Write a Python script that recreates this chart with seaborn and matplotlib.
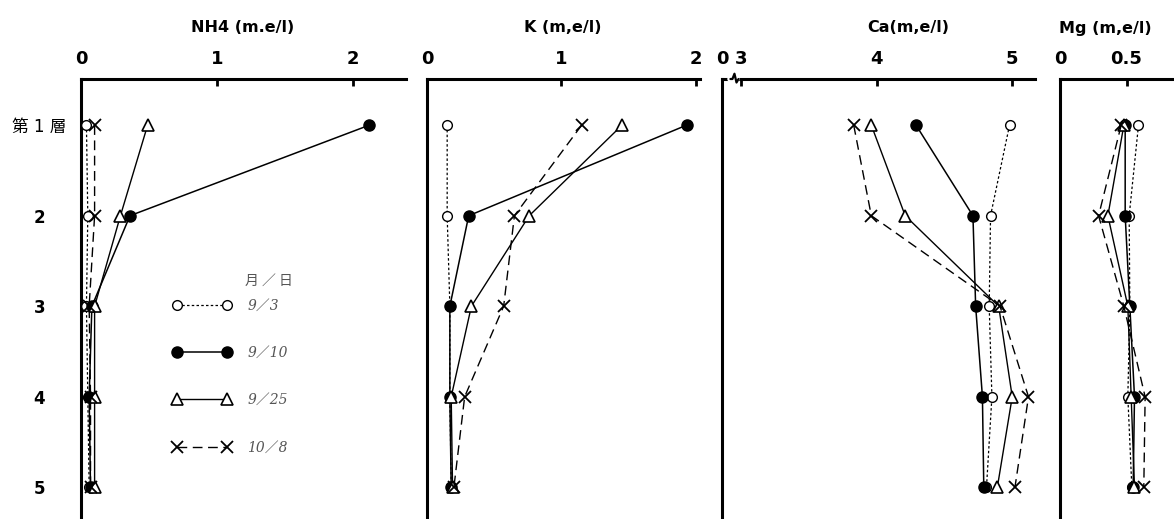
import matplotlib
matplotlib.use("Agg")
import matplotlib.pyplot as plt
from matplotlib.lines import Line2D
import seaborn as sns
import pandas as pd

# ---------------- data ----------------
layers = [1, 2, 3, 4, 5]
layer_labels = ["第 1 層", "2", "3", "4", "5"]
dates = ["9/3", "9/10", "9/25", "10/8"]
legend_labels = ["9／3", "9／10", "9／25", "10／8"]

nh4_0903 = [0.04, 0.05, 0.04, 0.05, 0.06]
nh4_0910 = [2.12, 0.36, 0.08, 0.06, 0.07]
nh4_0925 = [0.49, 0.29, 0.10, 0.10, 0.10]
nh4_1008 = [0.10, 0.10, 0.06, 0.07, 0.07]

k_0903 = [0.15, 0.15, 0.17, 0.17, 0.18]
k_0910 = [1.93, 0.31, 0.17, 0.17, 0.18]
k_0925 = [1.45, 0.76, 0.33, 0.18, 0.19]
k_1008 = [1.15, 0.65, 0.57, 0.28, 0.20]

ca_0903 = [4.98, 4.84, 4.83, 4.85, 4.81]
ca_0910 = [4.29, 4.71, 4.73, 4.78, 4.79]
ca_0925 = [3.96, 4.21, 4.90, 5.00, 4.89]
ca_1008 = [3.83, 3.96, 4.91, 5.12, 5.02]

mg_0903 = [0.59, 0.52, 0.525, 0.51, 0.54]
mg_0910 = [0.49, 0.49, 0.525, 0.56, 0.55]
mg_0925 = [0.48, 0.36, 0.51, 0.535, 0.56]
mg_1008 = [0.46, 0.29, 0.48, 0.64, 0.63]

panels = [
    ("NH4 (m.e/l)", [nh4_0903, nh4_0910, nh4_0925, nh4_1008]),
    ("K (m,e/l)", [k_0903, k_0910, k_0925, k_1008]),
    ("Ca(m,e/l)", [ca_0903, ca_0910, ca_0925, ca_1008]),
    ("Mg (m,e/l)", [mg_0903, mg_0910, mg_0925, mg_1008]),
]

# ---------------- style ----------------
sns.set_theme(style="white")
plt.rcParams["font.family"] = ["DejaVu Sans", "Noto Sans CJK JP"]
plt.rcParams["text.color"] = "black"
plt.rcParams["xtick.color"] = "black"
plt.rcParams["ytick.color"] = "black"

styles = {
    "9/3": dict(marker="o", mfc="white", mec="black", ms=7, mew=1.0,
                linestyle=(0, (2.0, 1.8)), lw=0.9),
    "9/10": dict(marker="o", mfc="black", mec="black", ms=8, mew=1.0,
                 linestyle="-", lw=1.1),
    "9/25": dict(marker="^", mfc="white", mec="black", ms=8.5, mew=1.2,
                 linestyle="-", lw=1.0),
    "10/8": dict(marker="x", mfc="none", mec="black", ms=9, mew=1.3,
                 linestyle=(0, (7, 4)), lw=1.0),
}

W, H = 1174, 519
fig = plt.figure(figsize=(W / 100, H / 100), dpi=100)

# axes geometry in pixels: (left, right, xmin, xmax)
geoms = [
    (81, 406, 0.0, 2.39),
    (427, 700, 0.0, 2.03),
    (722, 1035, 2.858, 5.168),
    (1060, 1174, 0.0, 0.857),
]
top_px = 79
ylim = (5.35, 0.49)
title_x = [243, 563, 908, 1105]

axes = []
for i, ((title, series), (lpx, rpx, xmin, xmax)) in enumerate(zip(panels, geoms)):
    ax = fig.add_axes([lpx / W, 0, (rpx - lpx) / W, 1 - top_px / H])
    axes.append(ax)
    for d, vals in zip(dates, series):
        df = pd.DataFrame({"value": vals, "layer": layers})
        sns.lineplot(data=df, x="value", y="layer", ax=ax, color="black",
                     orient="y", sort=False, estimator=None,
                     clip_on=False, zorder=3, **styles[d])
    ax.set_xlim(xmin, xmax)
    ax.set_ylim(*ylim)
    ax.set_xlabel("")
    ax.set_ylabel("")
    for s in ["right", "bottom"]:
        ax.spines[s].set_visible(False)
    for s in ["top", "left"]:
        ax.spines[s].set_linewidth(2.2)
        ax.spines[s].set_color("black")
    ax.xaxis.tick_top()
    ax.tick_params(axis="x", direction="in", length=5, width=2, pad=8,
                   labelsize=13, colors="black")
    ax.grid(False)
    fig.text(title_x[i] / W, 1 - 28 / H, title, ha="center", va="center",
             fontsize=11.5, fontweight="bold", color="black")
    if ax.get_legend() is not None:
        ax.get_legend().remove()

# x ticks
axes[0].set_xticks([0, 1, 2])
axes[0].set_xticklabels(["0", "1", "2"])
axes[1].set_xticks([0, 1, 2])
axes[1].set_xticklabels(["0", "1", "2"])
axes[2].set_xticks([2.858, 3, 4, 5])
axes[2].set_xticklabels(["0", "3", "4", "5"])
axes[3].set_xticks([0, 0.5])
axes[3].set_xticklabels(["0", "0.5"])
for ax in axes:
    for lab in ax.get_xticklabels():
        lab.set_fontweight("bold")

# y ticks (layers) only on first panel
axes[0].set_yticks(layers)
axes[0].set_yticklabels(layer_labels, fontsize=12, fontweight="bold")
axes[0].tick_params(axis="y", length=0, pad=30)
for lab in axes[0].get_yticklabels():
    lab.set_horizontalalignment("center")
axes[0].get_yticklabels()[0].set_fontweight("normal")
for ax in axes[1:]:
    ax.set_yticks([])

# axis break mark on the Ca axis
ax = axes[2]
tr = ax.get_xaxis_transform()
ax.plot([2.92, 2.97], [1.0, 1.0], color="white", lw=4, transform=tr,
        clip_on=False, zorder=5)
ax.plot([2.92, 2.935, 2.95, 2.965, 2.98], [1.0, 1.0, 1.012, 0.992, 1.0],
        color="black", lw=1.6, transform=tr, clip_on=False, zorder=6)

# legend
handles = [Line2D([], [], color="black", **styles[d]) for d in dates]
fig.text(245 / W, 1 - 281 / H, "月 ／ 日", ha="left", va="center",
         fontsize=10, color="#555555", family=["Noto Sans CJK JP"])
leg = axes[0].legend(handles, legend_labels, numpoints=2, frameon=False,
                     loc="upper left", bbox_to_anchor=(160 / W, 1 - 286 / H),
                     bbox_transform=fig.transFigure, handlelength=4.2,
                     handletextpad=1.2, labelspacing=2.4, fontsize=10)
for t in leg.get_texts():
    t.set_fontstyle("italic")
    t.set_color("#555555")
    t.set_family(["DejaVu Serif", "Noto Sans CJK JP"])

fig.savefig("out.png", dpi=100)
